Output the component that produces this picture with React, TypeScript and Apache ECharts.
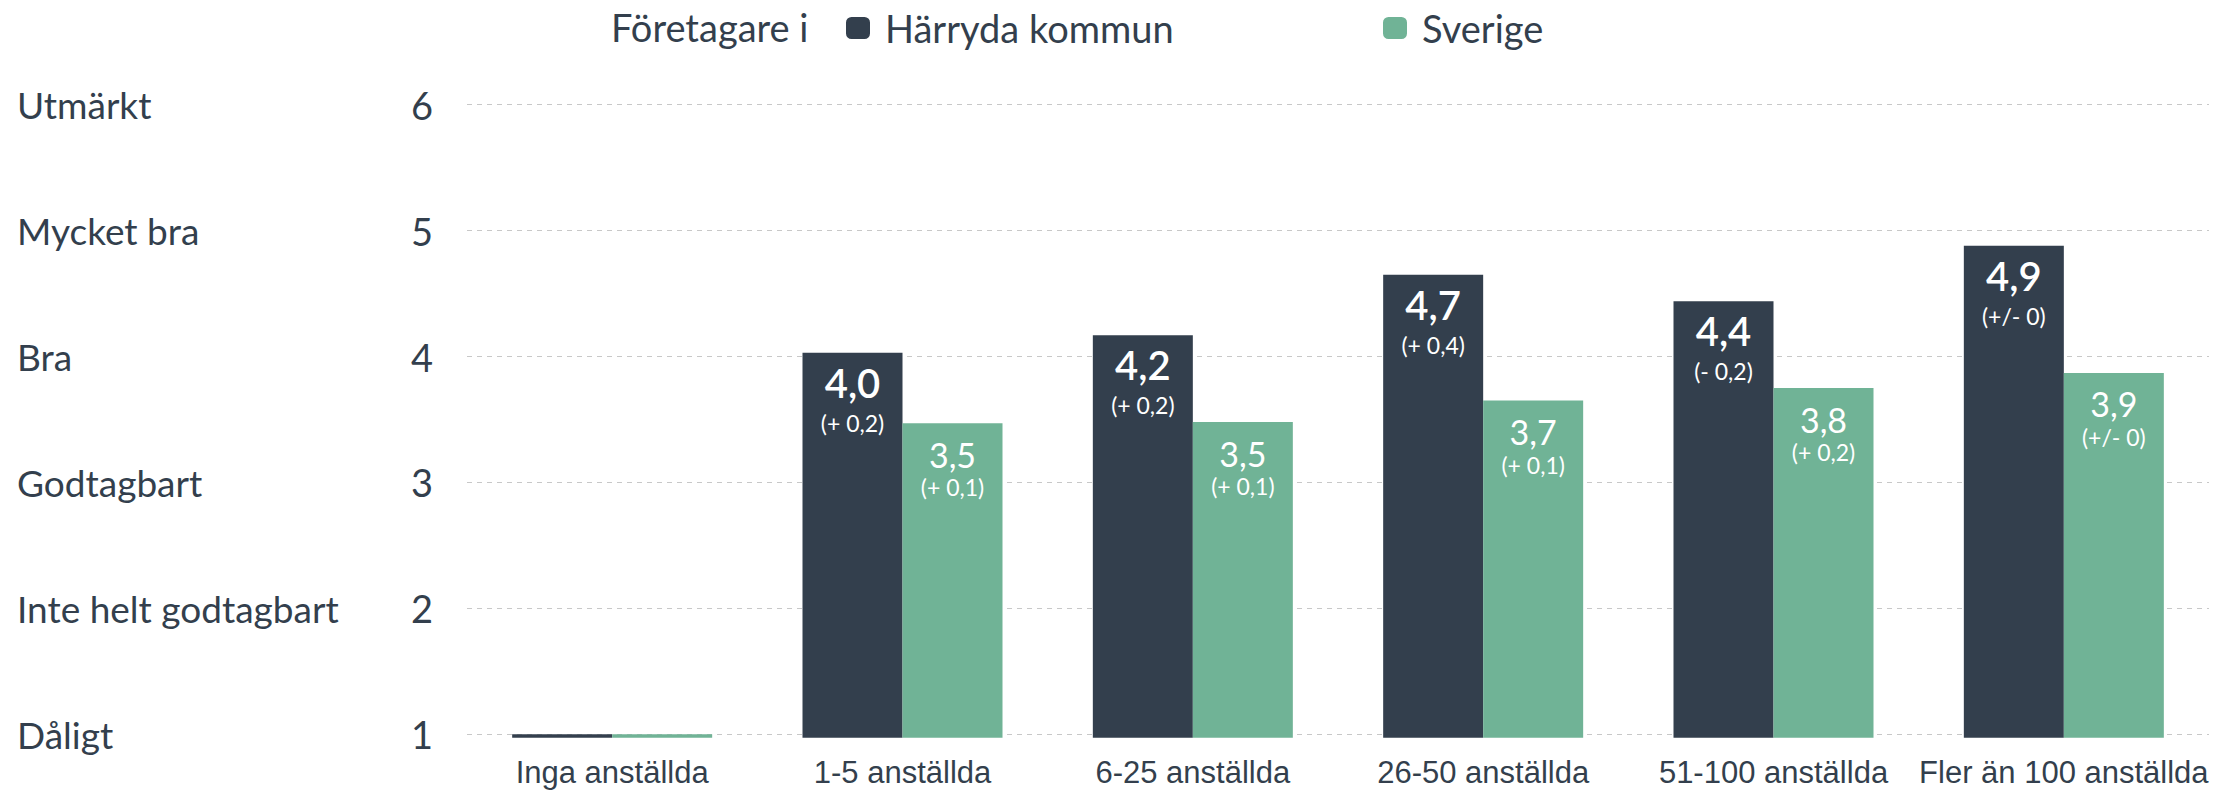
import React, { useEffect, useRef } from "react";
import * as echarts from "echarts";

const categories = [
  "Inga anställda",
  "1-5 anställda",
  "6-25 anställda",
  "26-50 anställda",
  "51-100 anställda",
  "Fler än 100 anställda",
];
const seriesNames = ["Härryda kommun", "Sverige"];
const harrydaValues = [1, 4.03, 4.17, 4.65, 4.44, 4.88];
const sverigeValues = [1, 3.47, 3.48, 3.65, 3.75, 3.87];
const harrydaLabels = ["", "4,0", "4,2", "4,7", "4,4", "4,9"];
const harrydaChanges = ["", "(+ 0,2)", "(+ 0,2)", "(+ 0,4)", "(- 0,2)", "(+/- 0)"];
const sverigeLabels = ["", "3,5", "3,5", "3,7", "3,8", "3,9"];
const sverigeChanges = ["", "(+ 0,1)", "(+ 0,1)", "(+ 0,1)", "(+ 0,2)", "(+/- 0)"];
const yTickValues = [1, 2, 3, 4, 5, 6];
const yTickTexts = ["Dåligt", "Inte helt godtagbart", "Godtagbart", "Bra", "Mycket bra", "Utmärkt"];
const yAxisMin = 0.973;
const yAxisMax = 6;
const legendPrefix = "Företagare i";

const DARK = "#333f4d";
const GREEN = "#70b396";
const TEXT = "#333f4d";
const FONT = "Lato, 'Noto Sans', sans-serif";

export default function App() {
  const ref = useRef<HTMLDivElement>(null);
  useEffect(() => {
    if (!ref.current) return;
    const chart = echarts.init(ref.current, undefined, { renderer: "svg" });
    const mkData = (vals: number[], labels: string[], changes: string[]) =>
      vals.map((v, i) =>
        labels[i]
          ? { value: v, label: { formatter: `{a|${labels[i]}}\n{b|${changes[i]}}` } }
          : { value: v, label: { show: false } }
      );
    const legendText = {
      fontFamily: FONT,
      fontSize: 38,
      color: TEXT,
      lineHeight: 38,
      padding: [0, 0, 0, 10],
    };
    const option: any = {
      animation: false,
      backgroundColor: "#ffffff",
      graphic: [
        {
          type: "text",
          left: 611,
          top: 8,
          style: { text: legendPrefix, font: `38px ${FONT}`, fill: TEXT, lineHeight: 38 },
        },
      ],
      legend: [
        {
          data: [seriesNames[0]],
          left: 841,
          top: 4,
          icon: "roundRect",
          itemWidth: 24,
          itemHeight: 22,
          selectedMode: false,
          textStyle: legendText,
        },
        {
          data: [seriesNames[1]],
          left: 1378,
          top: 4,
          icon: "roundRect",
          itemWidth: 24,
          itemHeight: 22,
          selectedMode: false,
          textStyle: legendText,
        },
      ],
      grid: { left: 467, right: 10, top: 104.7, bottom: 54.3, containLabel: false },
      xAxis: {
        type: "category",
        data: categories,
        axisLine: { show: false },
        axisTick: { show: false },
        axisLabel: {
          interval: 0,
          hideOverlap: false,
          fontFamily: "'Liberation Sans', Arial, sans-serif",
          fontSize: 31,
          color: TEXT,
          margin: 19,
        },
      },
      yAxis: [
        {
          type: "value",
          min: yAxisMin,
          max: yAxisMax,
          position: "left",
          axisLine: { show: false },
          axisTick: { show: false, customValues: yTickValues },
          splitLine: { show: false },
          axisLabel: { fontFamily: FONT, fontSize: 38, color: TEXT, margin: 34, customValues: yTickValues },
        },
        {
          type: "value",
          min: yAxisMin,
          max: yAxisMax,
          position: "left",
          axisLine: { show: false },
          axisTick: { show: false, customValues: yTickValues },
          splitLine: { show: false },
          axisLabel: {
            fontFamily: FONT,
            fontSize: 37,
            color: TEXT,
            margin: 450,
            align: "left",
            customValues: yTickValues,
            formatter: (v: number) => yTickTexts[yTickValues.indexOf(v)] ?? "",
          },
        },
      ],
      series: [
        {
          name: seriesNames[0],
          type: "bar",
          yAxisIndex: 0,
          barWidth: 100,
          barGap: "0%",
          itemStyle: { color: DARK },
          data: mkData(harrydaValues, harrydaLabels, harrydaChanges),
          label: {
            show: true,
            position: "insideTop",
            distance: 8,
            color: "#ffffff",
            rich: {
              a: { fontFamily: FONT, fontSize: 40, fontWeight: 600, lineHeight: 44, color: "#ffffff", align: "center" },
              b: { fontFamily: FONT, fontSize: 23, lineHeight: 36, color: "#ffffff", align: "center" },
            },
          },
          markLine: {
            silent: true,
            symbol: "none",
            z: 0,
            label: { show: false },
            lineStyle: { color: "#c8c8c8", type: [5, 5], width: 1 },
            data: yTickValues.map((v) => ({ yAxis: v })),
          },
        },
        {
          name: seriesNames[1],
          type: "bar",
          yAxisIndex: 0,
          barWidth: 100,
          barGap: "0%",
          itemStyle: { color: GREEN },
          data: mkData(sverigeValues, sverigeLabels, sverigeChanges),
          label: {
            show: true,
            position: "insideTop",
            distance: 11,
            color: "#ffffff",
            rich: {
              a: { fontFamily: FONT, fontSize: 34, lineHeight: 40, color: "#ffffff", align: "center" },
              b: { fontFamily: FONT, fontSize: 23, lineHeight: 26, color: "#ffffff", align: "center" },
            },
          },
        },
      ],
    };
    chart.setOption(option);
    return () => chart.dispose();
  }, []);
  return (
    <div
      ref={ref}
      style={{ position: "fixed", left: 0, top: 0, width: 2219, height: 792, background: "#fff" }}
    />
  );
}
